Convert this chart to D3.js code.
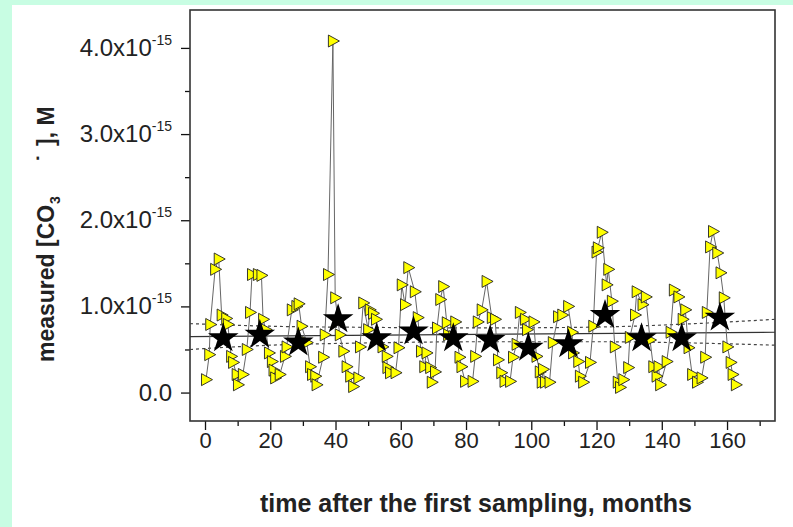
<!DOCTYPE html>
<html>
<head>
<meta charset="utf-8">
<script src="https://cdnjs.cloudflare.com/ajax/libs/d3/7.8.5/d3.min.js"></script>
<style>
  body { margin: 0; background: #c8fde3; }
  svg { display: block; }
</style>
</head>
<body>
<script>
// sampling time (months) and measured value (x1e-15 M)
const months = [
  0.3, 1.3, 1.6, 3.1, 4.2, 5.1, 6.5, 7.0, 8.0, 8.6, 9.7, 10.1, 11.6,
  12.8, 13.8, 14.4, 16.2, 17.3, 17.8, 18.6, 19.6, 20.5, 21.0, 21.5, 22.9,
  24.5, 25.0, 26.6, 28.0, 28.7, 29.6, 31.2, 32.2, 32.8, 33.8, 34.2,
  36.2, 36.7, 37.7, 39.2, 39.9, 41.3, 42.4, 43.4, 44.5, 45.4, 47.0,
  47.5, 48.5, 50.0, 50.5, 51.5, 52.4, 54.4, 55.7, 55.9, 56.7, 58.4,
  59.3, 60.3, 61.3, 62.3, 64.3, 65.2, 66.2, 67.2, 67.9, 69.0, 69.5, 70.5,
  71.1, 72.1, 73.0, 74.1, 74.5, 76.1, 76.7, 78.0, 78.6, 79.7, 82.0, 82.8,
  83.6, 84.8, 86.3, 87.9, 88.9, 89.8, 90.8, 91.8, 93.5,
  94.4, 95.5, 96.5, 98.1, 98.7, 100.7, 101.6, 102.6, 103.2, 103.6, 104.2, 105.6,
  106.6, 108.2, 109.5, 111.3, 112.5, 112.8, 114.4, 114.9, 115.9, 118.0,
  119.0, 120.0, 120.4, 121.6, 123.1, 123.6, 124.7, 125.6, 126.5, 127.2, 128.2,
  129.7, 130.2, 131.8, 132.3, 134.1, 135.1, 136.4, 137.4, 138.4, 139.0, 139.5, 141.5,
  142.7, 143.7, 145.1, 146.4, 147.2, 148.2, 149.3, 150.8, 152.2, 153.3,
  153.8, 154.8, 155.7, 157.0, 158.0, 159.0, 160.1, 161.1, 161.7, 162.7
];
const measured = [
  0.15, 0.44, 0.79, 1.43, 1.55, 0.90, 0.86, 0.79, 0.42, 0.35, 0.21, 0.09, 0.21,
  0.50, 0.93, 1.37, 1.37, 1.36, 0.85, 0.73, 0.46, 0.36, 0.26, 0.17, 0.21,
  0.42, 0.53, 0.96, 1.00, 1.03, 0.77, 0.58, 0.30, 0.21, 0.19, 0.09,
  0.41, 0.67, 1.37, 4.08, 1.10, 0.67, 0.48, 0.30, 0.19, 0.07, 0.17,
  0.53, 1.04, 0.73, 0.96, 0.92, 0.85, 0.53, 0.42, 0.29, 0.23, 0.23,
  0.52, 1.25, 1.02, 1.45, 1.17, 0.87, 0.48, 0.30, 0.46, 0.29, 0.12, 0.24,
  0.75, 1.08, 1.23, 0.81, 0.67, 0.65, 0.82, 0.41, 0.30, 0.13, 0.13, 0.42,
  0.82, 0.96, 1.29, 0.87, 0.85, 0.38, 0.23, 0.13, 0.13,
  0.41, 0.56, 0.93, 0.85, 0.73, 0.82, 0.42, 0.24, 0.12, 0.27, 0.12, 0.12,
  0.58, 0.88, 0.90, 1.00, 0.70, 0.46, 0.36, 0.19, 0.12, 0.35,
  0.77, 1.63, 1.68, 1.86, 1.25, 1.43, 1.06, 0.53, 0.12, 0.06, 0.15,
  0.29, 0.64, 0.90, 1.17, 1.02, 1.11, 0.61, 0.30, 0.19, 0.30, 0.09, 0.36,
  0.70, 1.19, 1.11, 0.85, 0.96, 0.52, 0.21, 0.12, 0.17, 0.41,
  0.93, 1.69, 1.87, 1.62, 1.39, 1.10, 0.53, 0.35, 0.21, 0.09
];

// yearly means (stars)
const starMonths = [5.6, 16.8, 28.6, 40.8, 52.6, 63.9, 76.1, 87.4, 99.1, 111.4, 122.6, 133.8, 146.1, 157.8];
const starValues = [0.63, 0.67, 0.58, 0.85, 0.63, 0.71, 0.63, 0.61, 0.52, 0.56, 0.90, 0.63, 0.63, 0.87];

// linear fit and confidence band
const fitMonths = [-4.6, 174.7];
const fitValues = [0.65, 0.70];
const bandMonths = [-4.6, 20, 50, 85, 120, 150, 174.7];
const bandUpper = [0.80, 0.77, 0.757, 0.75, 0.76, 0.80, 0.85];
const bandLower = [0.50, 0.55, 0.576, 0.59, 0.59, 0.575, 0.55];

// axes
const xTicks = [0, 20, 40, 60, 80, 100, 120, 140, 160];
const xMinor = [10, 30, 50, 70, 90, 110, 130, 150, 170];
const yTicks = [0, 1, 2, 3, 4];
const yTickLabels = ["0.0", "1.0x10", "2.0x10", "3.0x10", "4.0x10"];
const yMinor = [0.5, 1.5, 2.5, 3.5];

const W = 793, H = 527;
const svg = d3.select("body").append("svg").attr("width", W).attr("height", H);

svg.append("rect").attr("x", 12).attr("y", 5).attr("width", W - 12).attr("height", H - 5).attr("fill", "#ffffff");

const frame = {left: 190, right: 775, top: 10, bottom: 421};

const x = d3.scaleLinear().domain([-4.6, 174.7]).range([frame.left, frame.right]);
const y = d3.scaleLinear().domain([-0.33, 4.44]).range([frame.bottom, frame.top]);

const font = "'Liberation Sans', Arial, sans-serif";

// x axis ticks
const gx = svg.append("g").attr("transform", `translate(0, ${frame.bottom})`);
gx.call(d3.axisBottom(x).tickValues(xTicks).tickSize(9).tickPadding(2).tickFormat(d3.format("d")));
gx.append("g").call(d3.axisBottom(x).tickValues(xMinor).tickSize(5).tickFormat(""));
gx.selectAll(".domain").remove();
gx.selectAll("line").attr("stroke", "#111").attr("stroke-width", 1.3);
gx.selectAll("text").attr("font-family", font).attr("font-size", 22).attr("fill", "#222");

// y axis ticks
const gy = svg.append("g").attr("transform", `translate(${frame.left}, 0)`);
gy.call(d3.axisLeft(y).tickValues(yTicks).tickSize(9).tickFormat(""));
gy.append("g").call(d3.axisLeft(y).tickValues(yMinor).tickSize(5).tickFormat(""));
gy.selectAll(".domain").remove();
gy.selectAll("line").attr("stroke", "#111").attr("stroke-width", 1.3);

const yl = svg.append("g").selectAll("text").data(yTicks).enter().append("text")
  .attr("x", frame.left - 18)
  .attr("y", d => y(d) + 8)
  .attr("text-anchor", "end")
  .attr("font-family", font).attr("font-size", 24).attr("fill", "#222");
yl.append("tspan").text((d, i) => yTickLabels[i]);
yl.filter(d => d !== 0).append("tspan").attr("font-size", 14).attr("dy", -11).text("-15");

// frame
svg.append("rect")
  .attr("x", frame.left).attr("y", frame.top)
  .attr("width", frame.right - frame.left).attr("height", frame.bottom - frame.top)
  .attr("fill", "none").attr("stroke", "#333").attr("stroke-width", 1.6);

const plot = svg.append("g");

// fit line and band
const line = d3.line().x(d => x(d[0])).y(d => y(d[1]));
const band = d3.line().x(d => x(d[0])).y(d => y(d[1])).curve(d3.curveMonotoneX);
plot.append("path").attr("d", line(fitMonths.map((m, i) => [m, fitValues[i]])))
  .attr("fill", "none").attr("stroke", "#333").attr("stroke-width", 1.2);
[bandUpper, bandLower].forEach(arr => {
  plot.append("path").attr("d", band(bandMonths.map((m, i) => [m, arr[i]])))
    .attr("fill", "none").attr("stroke", "#444").attr("stroke-width", 1.2)
    .attr("stroke-dasharray", "3,3");
});

// connecting line of measurements
plot.append("path").attr("d", line(months.map((m, i) => [m, measured[i]])))
  .attr("fill", "none").attr("stroke", "#666").attr("stroke-width", 1);

// triangles
const tri = "M-4.5,-6 L6.5,0 L-4.5,6 Z";
plot.selectAll("path.pt").data(months).enter().append("path")
  .attr("class", "pt")
  .attr("d", tri)
  .attr("transform", (d, i) => `translate(${x(d)}, ${y(measured[i])})`)
  .attr("fill", "#ffff00").attr("stroke", "#222").attr("stroke-width", 0.9);

// stars
const star = d3.symbol().type(d3.symbolStar).size(290);
plot.selectAll("path.star").data(starMonths).enter().append("path")
  .attr("class", "star")
  .attr("d", star)
  .attr("transform", (d, i) => `translate(${x(d)}, ${y(starValues[i])})`)
  .attr("fill", "#000");

// axis titles
svg.append("text")
  .attr("x", 476).attr("y", 512)
  .attr("text-anchor", "middle")
  .attr("font-family", font).attr("font-weight", "bold").attr("font-size", 25).attr("fill", "#222")
  .text("time after the first sampling, months");

// y title, rotated; positions along the text run (= -y on the page)
const yt = svg.append("g").attr("transform", "translate(54, 0) rotate(-90)")
  .append("text")
  .attr("font-family", font).attr("font-weight", "bold").attr("font-size", 23).attr("fill", "#222");
yt.append("tspan").attr("x", -362).text("measured [CO");
yt.append("tspan").attr("x", -204).attr("dy", 6).attr("font-size", 14).text("3");
yt.append("tspan").attr("x", -162).attr("dy", -6).text("\u02D9");
yt.append("tspan").attr("x", -146).text("], M");
</script>
</body>
</html>
